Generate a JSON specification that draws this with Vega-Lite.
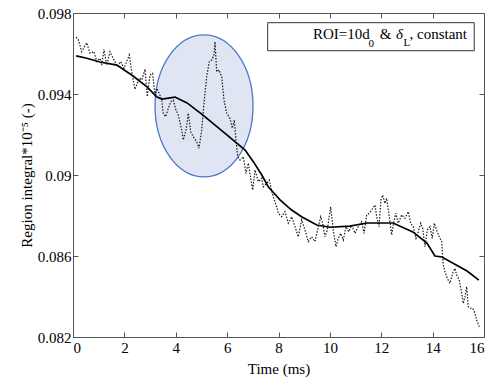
{
  "$schema": "https://vega.github.io/schema/vega-lite/v6.json",
  "width": 411,
  "height": 324,
  "autosize": {"type": "none"},
  "padding": {"left": 73, "top": 13, "right": 15, "bottom": 46},
  "background": "white",
  "config": {
    "font": "Liberation Serif",
    "style": {
      "guide-label": {"font": "Liberation Serif", "fontSize": 15, "fill": "#000000"},
      "guide-title": {"font": "Liberation Serif", "fontSize": 15, "fill": "#000000", "fontWeight": "normal"}
    },
    "view": {"stroke": "#555555", "strokeWidth": 1},
    "axis": {
      "labelFont": "Liberation Serif",
      "titleFont": "Liberation Serif",
      "labelFontSize": 15,
      "titleFontSize": 15,
      "titleFontWeight": "normal",
      "labelColor": "#000000",
      "titleColor": "#000000",
      "tickColor": "#555555",
      "domain": false,
      "grid": false,
      "tickSize": -5
    }
  },
  "datasets": {
    "anchor": [{}],
    "noisy": [
      {"t": 0.117, "v": 0.0968}, {"t": 0.206, "v": 0.0967}, {"t": 0.339, "v": 0.09609}, {"t": 0.533, "v": 0.09653},
      {"t": 0.662, "v": 0.09601}, {"t": 0.817, "v": 0.09609}, {"t": 0.923, "v": 0.0956}, {"t": 1.051, "v": 0.09576},
      {"t": 1.117, "v": 0.09543}, {"t": 1.207, "v": 0.09621}, {"t": 1.312, "v": 0.09543}, {"t": 1.44, "v": 0.09609},
      {"t": 1.569, "v": 0.09576}, {"t": 1.724, "v": 0.09535}, {"t": 1.857, "v": 0.0956}, {"t": 1.985, "v": 0.09527},
      {"t": 2.192, "v": 0.09593}, {"t": 2.285, "v": 0.0951}, {"t": 2.413, "v": 0.09423}, {"t": 2.581, "v": 0.09478},
      {"t": 2.674, "v": 0.09469}, {"t": 2.803, "v": 0.09522}, {"t": 2.892, "v": 0.09387}, {"t": 2.997, "v": 0.09494},
      {"t": 3.102, "v": 0.09502}, {"t": 3.192, "v": 0.09387}, {"t": 3.258, "v": 0.09428}, {"t": 3.359, "v": 0.09403},
      {"t": 3.453, "v": 0.0937}, {"t": 3.515, "v": 0.09305}, {"t": 3.608, "v": 0.09288}, {"t": 3.71, "v": 0.09329},
      {"t": 3.803, "v": 0.09362}, {"t": 3.904, "v": 0.0937}, {"t": 4.009, "v": 0.09321}, {"t": 4.099, "v": 0.09296},
      {"t": 4.231, "v": 0.09222}, {"t": 4.294, "v": 0.09173}, {"t": 4.399, "v": 0.09222}, {"t": 4.488, "v": 0.09305},
      {"t": 4.582, "v": 0.09214}, {"t": 4.683, "v": 0.09189}, {"t": 4.815, "v": 0.09164}, {"t": 4.905, "v": 0.09132},
      {"t": 5.01, "v": 0.09222}, {"t": 5.099, "v": 0.09354}, {"t": 5.204, "v": 0.09485}, {"t": 5.306, "v": 0.0956},
      {"t": 5.399, "v": 0.09568}, {"t": 5.489, "v": 0.09593}, {"t": 5.528, "v": 0.09658}, {"t": 5.594, "v": 0.0951},
      {"t": 5.683, "v": 0.09519}, {"t": 5.788, "v": 0.09485}, {"t": 5.878, "v": 0.0937}, {"t": 5.983, "v": 0.09305},
      {"t": 6.111, "v": 0.0928}, {"t": 6.201, "v": 0.09231}, {"t": 6.279, "v": 0.09272}, {"t": 6.345, "v": 0.09173},
      {"t": 6.411, "v": 0.0909}, {"t": 6.501, "v": 0.09074}, {"t": 6.629, "v": 0.0909}, {"t": 6.734, "v": 0.09008},
      {"t": 6.824, "v": 0.09058}, {"t": 6.995, "v": 0.08926}, {"t": 7.085, "v": 0.09025}, {"t": 7.213, "v": 0.08967},
      {"t": 7.345, "v": 0.08984}, {"t": 7.408, "v": 0.08942}, {"t": 7.54, "v": 0.08959}, {"t": 7.641, "v": 0.08975},
      {"t": 7.774, "v": 0.08901}, {"t": 7.929, "v": 0.08843}, {"t": 7.992, "v": 0.08811}, {"t": 8.124, "v": 0.08794},
      {"t": 8.252, "v": 0.08819}, {"t": 8.381, "v": 0.08762}, {"t": 8.513, "v": 0.08794}, {"t": 8.642, "v": 0.08745},
      {"t": 8.77, "v": 0.08695}, {"t": 8.903, "v": 0.08778}, {"t": 9.031, "v": 0.08728}, {"t": 9.159, "v": 0.08671},
      {"t": 9.292, "v": 0.08695}, {"t": 9.42, "v": 0.08671}, {"t": 9.549, "v": 0.08745}, {"t": 9.642, "v": 0.08794},
      {"t": 9.72, "v": 0.08762}, {"t": 9.809, "v": 0.08695}, {"t": 9.899, "v": 0.08728}, {"t": 10.031, "v": 0.08843},
      {"t": 10.132, "v": 0.08728}, {"t": 10.238, "v": 0.08646}, {"t": 10.327, "v": 0.08687}, {"t": 10.421, "v": 0.08712},
      {"t": 10.522, "v": 0.08679}, {"t": 10.627, "v": 0.08745}, {"t": 10.732, "v": 0.0872}, {"t": 10.849, "v": 0.08753},
      {"t": 10.977, "v": 0.08712}, {"t": 11.106, "v": 0.08745}, {"t": 11.238, "v": 0.08769}, {"t": 11.327, "v": 0.08712},
      {"t": 11.433, "v": 0.08803}, {"t": 11.534, "v": 0.08811}, {"t": 11.627, "v": 0.08827}, {"t": 11.756, "v": 0.08852},
      {"t": 11.822, "v": 0.08794}, {"t": 11.911, "v": 0.08745}, {"t": 11.989, "v": 0.08877}, {"t": 12.055, "v": 0.08901},
      {"t": 12.145, "v": 0.0886}, {"t": 12.211, "v": 0.08885}, {"t": 12.312, "v": 0.08794}, {"t": 12.406, "v": 0.08704},
      {"t": 12.468, "v": 0.08753}, {"t": 12.561, "v": 0.08811}, {"t": 12.663, "v": 0.08762}, {"t": 12.795, "v": 0.08803},
      {"t": 12.923, "v": 0.08786}, {"t": 13.052, "v": 0.08819}, {"t": 13.145, "v": 0.08762}, {"t": 13.246, "v": 0.08745},
      {"t": 13.352, "v": 0.08687}, {"t": 13.441, "v": 0.0872}, {"t": 13.535, "v": 0.08762}, {"t": 13.613, "v": 0.08737},
      {"t": 13.702, "v": 0.08646}, {"t": 13.792, "v": 0.08728}, {"t": 13.897, "v": 0.08745}, {"t": 13.986, "v": 0.08687},
      {"t": 14.064, "v": 0.08762}, {"t": 14.157, "v": 0.08728}, {"t": 14.258, "v": 0.08695}, {"t": 14.352, "v": 0.08671},
      {"t": 14.414, "v": 0.08556}, {"t": 14.48, "v": 0.08523}, {"t": 14.57, "v": 0.0849}, {"t": 14.675, "v": 0.08465},
      {"t": 14.78, "v": 0.08515}, {"t": 14.87, "v": 0.08539}, {"t": 14.936, "v": 0.08506}, {"t": 15.037, "v": 0.08482},
      {"t": 15.131, "v": 0.08416}, {"t": 15.193, "v": 0.08366}, {"t": 15.259, "v": 0.08399}, {"t": 15.325, "v": 0.08448},
      {"t": 15.387, "v": 0.0835}, {"t": 15.454, "v": 0.08342}, {"t": 15.559, "v": 0.08342}, {"t": 15.648, "v": 0.08317},
      {"t": 15.714, "v": 0.08284}, {"t": 15.816, "v": 0.08251}
    ],
    "smooth": [
      {"t": 0.12, "v": 0.09588}, {"t": 0.5, "v": 0.09578}, {"t": 1.05, "v": 0.09558}, {"t": 1.71, "v": 0.09543},
      {"t": 2.34, "v": 0.09489}, {"t": 2.88, "v": 0.09435}, {"t": 3.27, "v": 0.09385}, {"t": 3.46, "v": 0.09375},
      {"t": 3.97, "v": 0.09385}, {"t": 4.44, "v": 0.09356}, {"t": 5.06, "v": 0.09296}, {"t": 5.99, "v": 0.09198},
      {"t": 6.7, "v": 0.09123}, {"t": 7.02, "v": 0.09066}, {"t": 7.35, "v": 0.09}, {"t": 7.6, "v": 0.08942},
      {"t": 8.06, "v": 0.08877}, {"t": 8.51, "v": 0.08827}, {"t": 8.9, "v": 0.08794}, {"t": 9.49, "v": 0.08753},
      {"t": 10.0, "v": 0.08742}, {"t": 10.78, "v": 0.08748}, {"t": 11.44, "v": 0.08763}, {"t": 12.46, "v": 0.08763},
      {"t": 13.23, "v": 0.08719}, {"t": 13.78, "v": 0.08664}, {"t": 14.09, "v": 0.086}, {"t": 14.36, "v": 0.08595},
      {"t": 15.34, "v": 0.08526}, {"t": 15.8, "v": 0.08481}
    ]
  },
  "resolve": {"axis": {"x": "independent", "y": "independent"}},
  "layer": [
    {
      "layer": [
        {
          "data": {"name": "anchor"},
          "mark": {"type": "point", "shape": "M 0.69 0 C 0.69 0.5523 0.3811 1 0 1 C -0.3811 1 -0.69 0.5523 -0.69 0 C -0.69 -0.5523 -0.3811 -1 0 -1 C 0.3811 -1 0.69 -0.5523 0.69 0 Z", "size": 20164, "filled": true, "fill": "#dfe5f3", "fillOpacity": 1, "stroke": "#4a78c8", "strokeWidth": 1.3, "opacity": 1},
          "encoding": {
            "x": {"datum": 5.1, "type": "quantitative", "title": "Time (ms)", "scale": {"domain": [0, 16], "nice": false, "zero": false}, "axis": {"values": [0, 2, 4, 6, 8, 10, 12, 14, 16], "labelPadding": 8, "titlePadding": 6, "labelFont": "Liberation Serif", "titleFont": "Liberation Serif", "labelFontSize": 15, "titleFontSize": 15, "titleFontWeight": "normal"}},
            "y": {"datum": 0.09341, "type": "quantitative", "title": "Region integral*10⁻⁵ (-)", "scale": {"domain": [0.082, 0.098], "nice": false, "zero": false}, "axis": {"values": [0.082, 0.086, 0.09, 0.094, 0.098], "format": ".3~f", "labelPadding": 7, "titlePadding": 3, "labelFont": "Liberation Serif", "titleFont": "Liberation Serif", "labelFontSize": 15, "titleFontSize": 15, "titleFontWeight": "normal"}}
          }
        },
        {
          "data": {"name": "noisy"},
          "mark": {"type": "line", "color": "#1a1a1a", "strokeWidth": 1.2, "strokeDash": [1.5, 1.5]},
          "encoding": {
            "x": {"field": "t", "type": "quantitative", "title": "Time (ms)"},
            "y": {"field": "v", "type": "quantitative", "title": "Region integral*10⁻⁵ (-)"}
          }
        },
        {
          "data": {"name": "smooth"},
          "mark": {"type": "line", "color": "#000000", "strokeWidth": 1.7},
          "encoding": {
            "x": {"field": "t", "type": "quantitative", "title": "Time (ms)"},
            "y": {"field": "v", "type": "quantitative", "title": "Region integral*10⁻⁵ (-)"}
          }
        },
        {
          "data": {"name": "anchor"},
          "mark": {"type": "rect", "fill": "#ffffff", "stroke": "#333333", "strokeWidth": 1},
          "encoding": {
            "x": {"datum": 7.578, "type": "quantitative", "title": "Time (ms)"},
            "x2": {"datum": 15.62},
            "y": {"datum": 0.097521, "type": "quantitative", "title": "Region integral*10⁻⁵ (-)"},
            "y2": {"datum": 0.096138}
          }
        },
        {
          "data": {"name": "anchor"},
          "mark": {"type": "text", "text": "ROI=10d", "align": "left", "baseline": "alphabetic", "font": "Liberation Serif", "fontSize": 15, "color": "#000000"},
          "encoding": {
            "x": {"datum": 9.342, "type": "quantitative", "title": "Time (ms)"},
            "y": {"datum": 0.0967, "type": "quantitative", "title": "Region integral*10⁻⁵ (-)"}
          }
        },
        {
          "data": {"name": "anchor"},
          "mark": {"type": "text", "text": "0", "align": "left", "baseline": "alphabetic", "font": "Liberation Serif", "fontSize": 11, "color": "#000000"},
          "encoding": {
            "x": {"datum": 11.5, "type": "quantitative", "title": "Time (ms)"},
            "y": {"datum": 0.09634, "type": "quantitative", "title": "Region integral*10⁻⁵ (-)"}
          }
        },
        {
          "data": {"name": "anchor"},
          "mark": {"type": "text", "text": "&", "align": "left", "baseline": "alphabetic", "font": "Liberation Serif", "fontSize": 15, "color": "#000000"},
          "encoding": {
            "x": {"datum": 11.94, "type": "quantitative", "title": "Time (ms)"},
            "y": {"datum": 0.0967, "type": "quantitative", "title": "Region integral*10⁻⁵ (-)"}
          }
        },
        {
          "data": {"name": "anchor"},
          "mark": {"type": "text", "text": "δ", "align": "left", "baseline": "alphabetic", "font": "Liberation Serif", "fontStyle": "italic", "fontSize": 15, "color": "#000000"},
          "encoding": {
            "x": {"datum": 12.57, "type": "quantitative", "title": "Time (ms)"},
            "y": {"datum": 0.0967, "type": "quantitative", "title": "Region integral*10⁻⁵ (-)"}
          }
        },
        {
          "data": {"name": "anchor"},
          "mark": {"type": "text", "text": "L", "align": "left", "baseline": "alphabetic", "font": "Liberation Serif", "fontSize": 11, "color": "#000000"},
          "encoding": {
            "x": {"datum": 12.87, "type": "quantitative", "title": "Time (ms)"},
            "y": {"datum": 0.09637, "type": "quantitative", "title": "Region integral*10⁻⁵ (-)"}
          }
        },
        {
          "data": {"name": "anchor"},
          "mark": {"type": "text", "text": ", constant", "align": "left", "baseline": "alphabetic", "font": "Liberation Serif", "fontSize": 15, "color": "#000000"},
          "encoding": {
            "x": {"datum": 13.1, "type": "quantitative", "title": "Time (ms)"},
            "y": {"datum": 0.0967, "type": "quantitative", "title": "Region integral*10⁻⁵ (-)"}
          }
        }
      ]
    },
    {
      "data": {"name": "smooth"},
      "mark": {"type": "line", "strokeOpacity": 0},
      "encoding": {
        "x": {"field": "t", "type": "quantitative", "axis": {"orient": "top", "labels": false, "title": null, "values": [0, 2, 4, 6, 8, 10, 12, 14, 16]}},
        "y": {"field": "v", "type": "quantitative", "axis": {"orient": "right", "labels": false, "title": null, "values": [0.082, 0.086, 0.09, 0.094, 0.098]}}
      }
    }
  ]
}
